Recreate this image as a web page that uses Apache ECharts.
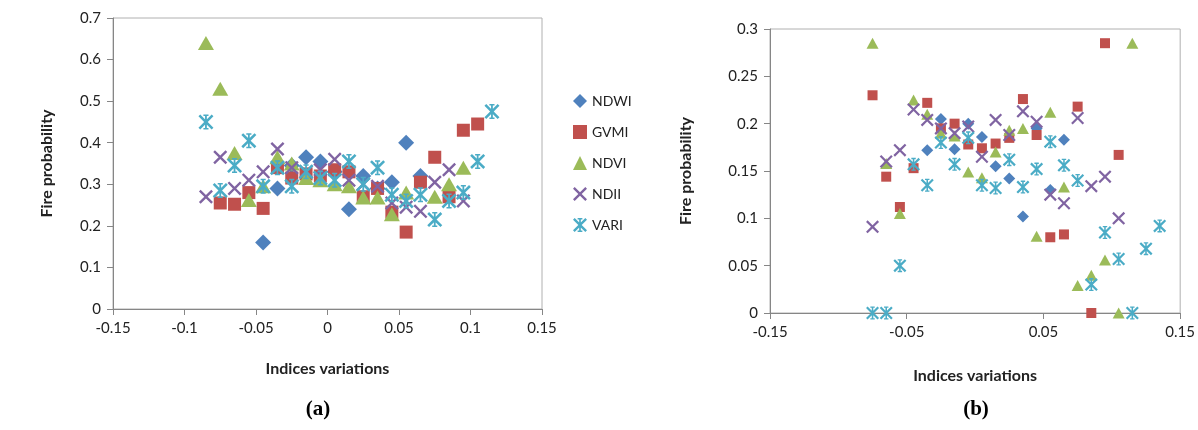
<!DOCTYPE html>
<html>
<head>
<meta charset="utf-8" />
<script src="https://cdn.jsdelivr.net/npm/echarts@6/dist/echarts.min.js"></script>
</head>
<body style="margin: 0; background: #fff">
<div id="container" style="width: 1198px; height: 430px;"></div>
<script type="text/javascript">
// panel (a) : x positions and fire probability per index
const xA = [-0.085, -0.075, -0.065, -0.055, -0.045, -0.035, -0.025, -0.015, -0.005, 0.005, 0.015,
            0.025, 0.035, 0.045, 0.055, 0.065, 0.075, 0.085, 0.095, 0.105, 0.115];
const ndwiA = [null, null, null, null, 0.16, 0.29, 0.345, 0.365, 0.355, 0.33, 0.24,
               0.32, 0.29, 0.305, 0.40, 0.32, null, null, null, null, null];
const gvmiA = [null, 0.255, 0.252, 0.28, 0.242, 0.34, 0.315, 0.325, 0.32, 0.335, 0.33,
               0.27, 0.29, 0.233, 0.185, 0.305, 0.365, 0.27, 0.43, 0.445, null];
const ndviA = [0.64, 0.53, 0.375, 0.262, 0.295, 0.365, 0.35, 0.315, 0.31, 0.30, 0.295,
               0.268, 0.268, 0.228, 0.28, null, 0.27, 0.30, 0.34, null, null];
const ndiiA = [0.27, 0.365, 0.29, 0.31, 0.33, 0.385, 0.34, 0.33, 0.335, 0.36, 0.31,
               0.30, 0.295, 0.255, 0.245, 0.235, 0.305, 0.335, 0.26, null, null];
const variA = [0.45, 0.285, 0.345, 0.405, 0.295, 0.34, 0.295, 0.33, 0.315, 0.31, 0.355,
               0.30, 0.34, 0.275, 0.26, 0.275, 0.215, 0.26, 0.28, 0.355, 0.475];

// panel (b)
const xB = [-0.075, -0.065, -0.055, -0.045, -0.035, -0.025, -0.015, -0.005, 0.005, 0.015, 0.025,
            0.035, 0.045, 0.055, 0.065, 0.075, 0.085, 0.095, 0.105, 0.115, 0.125, 0.135];
const ndwiB = [null, null, null, null, 0.172, 0.205, 0.173, 0.200, 0.186, 0.155, 0.142,
               0.102, 0.195, 0.130, 0.183, null, null, null, null, null, null, null];
const gvmiB = [0.23, 0.144, 0.112, 0.153, 0.222, 0.195, 0.200, 0.178, 0.174, 0.179, 0.185,
               0.226, 0.188, 0.080, 0.083, 0.218, 0.0, 0.285, 0.167, null, null, null];
const ndviB = [0.285, 0.158, 0.105, 0.225, 0.210, 0.19, 0.187, 0.149, 0.143, 0.170, 0.193,
               0.195, 0.081, 0.212, 0.133, 0.029, 0.040, 0.056, 0.0, 0.285, null, null];
const ndiiB = [0.091, 0.160, 0.172, 0.215, 0.204, 0.195, 0.190, 0.197, 0.165, 0.204, 0.188,
               0.213, 0.202, 0.125, 0.116, 0.206, 0.134, 0.144, 0.100, null, null, null];
const variB = [0, 0, 0.05, 0.157, 0.135, 0.180, 0.157, 0.185, 0.135, 0.132, 0.162,
               0.133, 0.152, 0.181, 0.156, 0.140, 0.030, 0.085, 0.057, 0.0, 0.068, 0.092];

const names = ['NDWI', 'GVMI', 'NDVI', 'NDII', 'VARI'];
const colors = ['#4F81BD', '#C0504D', '#9BBB59', '#8064A2', '#4BACC6'];

// x mark and excel-like star mark as filled shapes
const crossPath = 'path://M0,1.2 L1.2,0 L5,3.8 L8.8,0 L10,1.2 L6.2,5 L10,8.8 L8.8,10 L5,6.2 L1.2,10 L0,8.8 L3.8,5 Z';
const starPath = crossPath.replace(' Z', ' Z M4.4,0 L5.6,0 L5.6,10 L4.4,10 Z M3.3,0 L6.7,0 L6.7,1 L3.3,1 Z M3.3,9 L6.7,9 L6.7,10 L3.3,10 Z');
const symbols = ['diamond', 'rect', 'triangle', crossPath, starPath];
const sizesA = [16, 13, [16, 14], 14, 15];
const sizesB = [12, 10, [12, 11], 13, 13];

function pairs(xs, ys) {
    let res = [];
    for (let i = 0; i < xs.length; i++) {
        if (ys[i] !== null) res.push([xs[i], ys[i]]);
    }
    return res;
}

const dataA = [ndwiA, gvmiA, ndviA, ndiiA, variA];
const dataB = [ndwiB, gvmiB, ndviB, ndiiB, variB];

const labelFont = { color: '#222', fontFamily: 'Lato', fontSize: 15 };
const titleFont = { color: '#222', fontFamily: 'Lato', fontSize: 16, fontWeight: 'bold' };
const fmt = function (v) { return String(parseFloat(v.toFixed(2))); };

function xAxisOf(grid, interval, gap) {
    return {
        gridIndex: grid, type: 'value', min: -0.15, max: 0.15, interval: interval,
        name: 'Indices variations', nameLocation: 'middle', nameGap: gap, nameTextStyle: titleFont,
        axisLine: { show: true, onZero: false, lineStyle: { color: '#868686' } },
        axisTick: { show: true, length: 6, lineStyle: { color: '#868686' } },
        axisLabel: Object.assign({ margin: 12, formatter: fmt }, labelFont),
        splitLine: { show: false }
    };
}
function yAxisOf(grid, max, interval, gap) {
    return {
        gridIndex: grid, type: 'value', min: 0, max: max, interval: interval,
        name: 'Fire probability', nameLocation: 'middle', nameGap: gap, nameTextStyle: titleFont,
        axisLine: { show: true, onZero: false, lineStyle: { color: '#868686' } },
        axisTick: { show: true, length: 6, lineStyle: { color: '#868686' } },
        axisLabel: Object.assign({ margin: 12, formatter: fmt }, labelFont),
        splitLine: { show: false }
    };
}

let series = [];
names.forEach(function (n, i) {
    series.push({
        name: n, type: 'scatter', xAxisIndex: 0, yAxisIndex: 0,
        symbol: symbols[i], symbolSize: sizesA[i], itemStyle: { color: colors[i], opacity: 1 },
        data: pairs(xA, dataA[i])
    });
});
names.forEach(function (n, i) {
    series.push({
        name: n, type: 'scatter', xAxisIndex: 1, yAxisIndex: 1,
        symbol: symbols[i], symbolSize: sizesB[i], itemStyle: { color: colors[i], opacity: 1 },
        data: pairs(xB, dataB[i])
    });
});

var myChart = echarts.init(document.getElementById('container'), null, { renderer: 'canvas' });
var option = {
    backgroundColor: '#fff',
    animation: false,
    grid: [
        { left: 113, top: 18, width: 429, height: 291, show: true, borderColor: '#b0b0b0', borderWidth: 1 },
        { left: 770, top: 29, width: 411, height: 284, show: true, borderColor: '#b0b0b0', borderWidth: 1 }
    ],
    legend: {
        orient: 'vertical', left: 568, top: 89, itemGap: 17, itemWidth: 14, itemHeight: 14,
        textStyle: { color: '#222', fontFamily: 'Lato', fontSize: 14 },
        data: names
    },
    xAxis: [xAxisOf(0, 0.05, 52), xAxisOf(1, 0.1, 55)],
    yAxis: [yAxisOf(0, 0.7, 0.1, 58), yAxisOf(1, 0.3, 0.05, 76)],
    graphic: [
        { type: 'text', x: 318, y: 410, style: { text: '(a)', font: 'bold 21px "Liberation Serif"', fill: '#000', textAlign: 'center', textVerticalAlign: 'middle' } },
        { type: 'text', x: 976, y: 410, style: { text: '(b)', font: 'bold 21px "Liberation Serif"', fill: '#000', textAlign: 'center', textVerticalAlign: 'middle' } }
    ],
    series: series
};
myChart.setOption(option);
window.addEventListener('resize', myChart.resize);
</script>
</body>
</html>
